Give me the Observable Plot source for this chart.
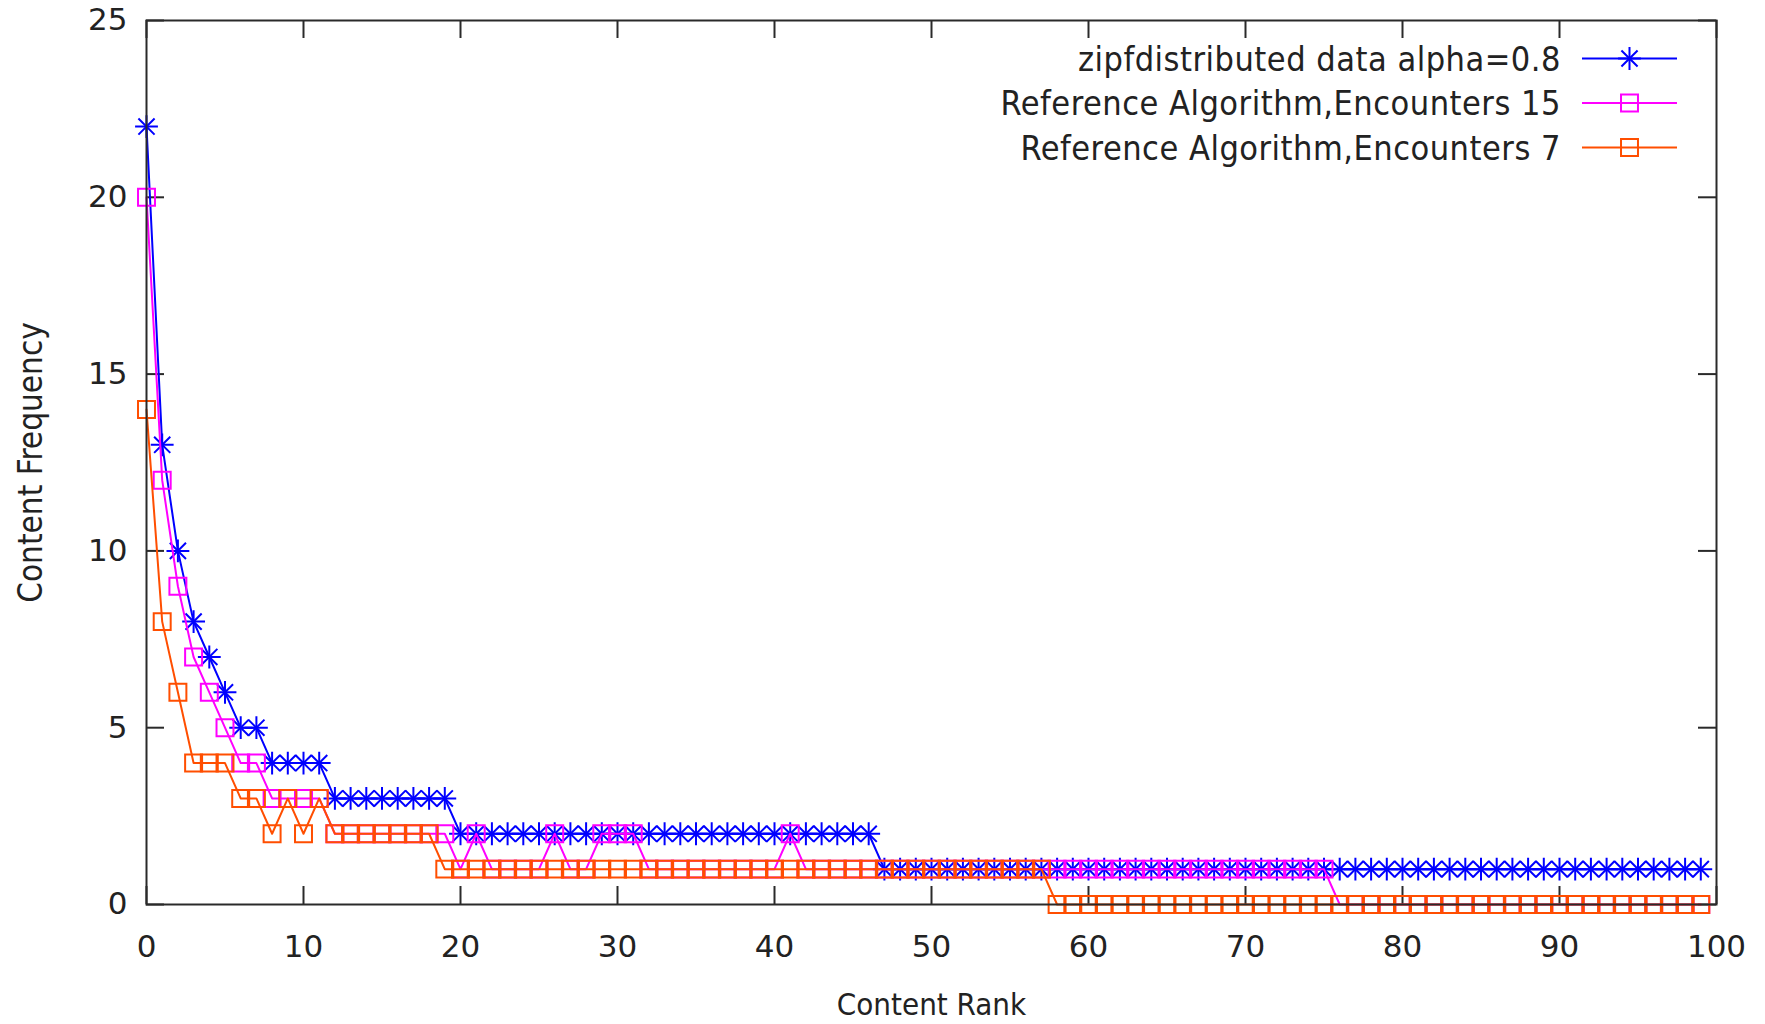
<!DOCTYPE html>
<html>
<head>
<meta charset="utf-8">
<script src="https://cdn.jsdelivr.net/npm/d3@7"></script>
<script src="https://cdn.jsdelivr.net/npm/@observablehq/plot@0.6"></script>
<style>
  html, body { margin: 0; padding: 0; background: #ffffff; }
  #chart { width: 1765px; height: 1024px; }
</style>
</head>
<body>
<div id="chart"></div>
<script>
// ---------- data ----------
const ranks = [
  0,1,2,3,4,5,6,7,8,9,10,11,12,13,14,15,16,17,18,19,
  20,21,22,23,24,25,26,27,28,29,30,31,32,33,34,35,36,37,38,39,
  40,41,42,43,44,45,46,47,48,49,50,51,52,53,54,55,56,57,58,59,
  60,61,62,63,64,65,66,67,68,69,70,71,72,73,74,75,76,77,78,79,
  80,81,82,83,84,85,86,87,88,89,90,91,92,93,94,95,96,97,98,99
];
const zipfValues = [
  22,13,10,8,7,6,5,5,4,4,4,4,3,3,3,3,3,3,3,3,
  2,2,2,2,2,2,2,2,2,2,2,2,2,2,2,2,2,2,2,2,
  2,2,2,2,2,2,2,1,1,1,1,1,1,1,1,1,1,1,1,1,
  1,1,1,1,1,1,1,1,1,1,1,1,1,1,1,1,1,1,1,1,
  1,1,1,1,1,1,1,1,1,1,1,1,1,1,1,1,1,1,1,1
];
const encounters15Values = [
  20,12,9,7,6,5,4,4,3,3,3,3,2,2,2,2,2,2,2,2,
  1,2,1,1,1,1,2,1,1,2,2,2,1,1,1,1,1,1,1,1,
  1,2,1,1,1,1,1,1,1,1,1,1,1,1,1,1,1,1,1,1,
  1,1,1,1,1,1,1,1,1,1,1,1,1,1,1,1,0,0,0,0,
  0,0,0,0,0,0,0,0,0,0,0,0,0,0,0,0,0,0,0,0
];
const encounters7Values = [
  14,8,6,4,4,4,3,3,2,3,2,3,2,2,2,2,2,2,2,1,
  1,1,1,1,1,1,1,1,1,1,1,1,1,1,1,1,1,1,1,1,
  1,1,1,1,1,1,1,1,1,1,1,1,1,1,1,1,1,1,0,0,
  0,0,0,0,0,0,0,0,0,0,0,0,0,0,0,0,0,0,0,0,
  0,0,0,0,0,0,0,0,0,0,0,0,0,0,0,0,0,0,0,0
];
const seriesNames = [
  "zipfdistributed data alpha=0.8",
  "Reference Algorithm,Encounters 15",
  "Reference Algorithm,Encounters 7"
];
const seriesColors = ["#0000ff", "#ff00ff", "#ff4e00"];
const xTicks = [0, 10, 20, 30, 40, 50, 60, 70, 80, 90, 100];
const yTicks = [0, 5, 10, 15, 20, 25];
const xLabel = "Content Rank";
const yLabel = "Content Frequency";

// ---------- layout ----------
const W = 1765, H = 1024;
const mL = 146, mR = 49, mT = 20, mB = 120;
const frameW = W - mL - mR, frameH = H - mT - mB;
const tickLen = 18;
const axisColor = "#2a2a2a";
const textColor = "#222222";
const narrowFont = "'Liberation Sans Narrow', 'DejaVu Sans Condensed', 'Liberation Sans', sans-serif";

const allValues = [zipfValues, encounters15Values, encounters7Values];
const seriesData = allValues.map((vals, s) =>
  ranks.map((r, i) => ({ rank: r, value: vals[i], series: s }))
);

const lineW = 2;
const dotR = 10.8;   // squares
const starR = 7.4;   // plus + times

const seriesMarks = seriesData.flatMap((data, s) => {
  const marks = [
    Plot.line(data, { x: "rank", y: "value", stroke: seriesColors[s], strokeWidth: lineW })
  ];
  if (s === 0) {
    marks.push(Plot.dot(data, { x: "rank", y: "value", symbol: "plus", r: starR, stroke: seriesColors[s], strokeWidth: 2 }));
    marks.push(Plot.dot(data, { x: "rank", y: "value", symbol: "times", r: starR, stroke: seriesColors[s], strokeWidth: 2 }));
  } else {
    marks.push(Plot.dot(data, { x: "rank", y: "value", symbol: "square2", r: dotR, stroke: seriesColors[s], strokeWidth: 2, fill: "none" }));
  }
  return marks;
});

const plot = Plot.plot({
  width: W,
  height: H,
  marginLeft: mL,
  marginRight: mR,
  marginTop: mT,
  marginBottom: mB,
  x: { domain: [0, 100] },
  y: { domain: [0, 25] },
  style: { fontFamily: "'DejaVu Sans', Verdana, sans-serif", fontSize: "31px", color: textColor, background: "#ffffff" },
  marks: [
    // inward ticks on all four sides (gnuplot style)
    Plot.ruleX(xTicks, { x: d => d, insetTop: frameH - tickLen, stroke: axisColor, strokeWidth: 2 }),
    Plot.ruleX(xTicks, { x: d => d, insetBottom: frameH - tickLen, stroke: axisColor, strokeWidth: 2 }),
    Plot.ruleY(yTicks, { y: d => d, insetRight: frameW - tickLen, stroke: axisColor, strokeWidth: 2 }),
    Plot.ruleY(yTicks, { y: d => d, insetLeft: frameW - tickLen, stroke: axisColor, strokeWidth: 2 }),
    Plot.axisX(xTicks, { tickSize: 0, tickPadding: 30, label: null, fontSize: 31, fill: textColor }),
    Plot.axisY(yTicks, { tickSize: 0, tickPadding: 19, label: null, fontSize: 31, fill: textColor }),
    ...seriesMarks,
    Plot.frame({ stroke: axisColor, strokeWidth: 2 }),
    Plot.text([xLabel], { text: d => d, frameAnchor: "bottom", dy: 101, textAnchor: "middle", lineAnchor: "middle",
      fontSize: 31, fill: textColor, fontFamily: narrowFont }),
    Plot.text([yLabel], { text: d => d, frameAnchor: "left", dx: -115, rotate: -90, textAnchor: "middle", lineAnchor: "middle",
      fontSize: 33, fill: textColor, fontFamily: narrowFont })
  ]
});

document.getElementById("chart").appendChild(plot);

// ---------- legend (inside the frame, top right) ----------
const svg = d3.select(plot);
const legend = svg.append("g").attr("class", "legend");
const legendTextRight = W - mR - 155;   // right edge of labels
const sampleX1 = W - mR - 134, sampleX2 = W - mR - 39;
const sampleMid = (sampleX1 + sampleX2) / 2;
const rowY0 = mT + 38.5, rowStep = 44.5;

seriesNames.forEach((name, i) => {
  const y = rowY0 + i * rowStep;
  legend.append("text")
    .attr("x", legendTextRight)
    .attr("y", y)
    .attr("dy", "0.36em")
    .attr("text-anchor", "end")
    .attr("font-family", narrowFont)
    .attr("font-size", 34)
    .attr("letter-spacing", "0.5px")
    .attr("fill", textColor)
    .text(name);
  legend.append("line")
    .attr("x1", sampleX1).attr("x2", sampleX2)
    .attr("y1", y).attr("y2", y)
    .attr("stroke", seriesColors[i]).attr("stroke-width", lineW);
  const symbols = i === 0 ? [d3.symbolPlus, d3.symbolTimes] : [d3.symbolSquare2];
  const rr = i === 0 ? starR : dotR;
  symbols.forEach(sym => {
    legend.append("path")
      .attr("transform", `translate(${sampleMid},${y})`)
      .attr("d", d3.symbol(sym, Math.PI * rr * rr)())
      .attr("fill", "none")
      .attr("stroke", seriesColors[i])
      .attr("stroke-width", 2);
  });
});
</script>
</body>
</html>
